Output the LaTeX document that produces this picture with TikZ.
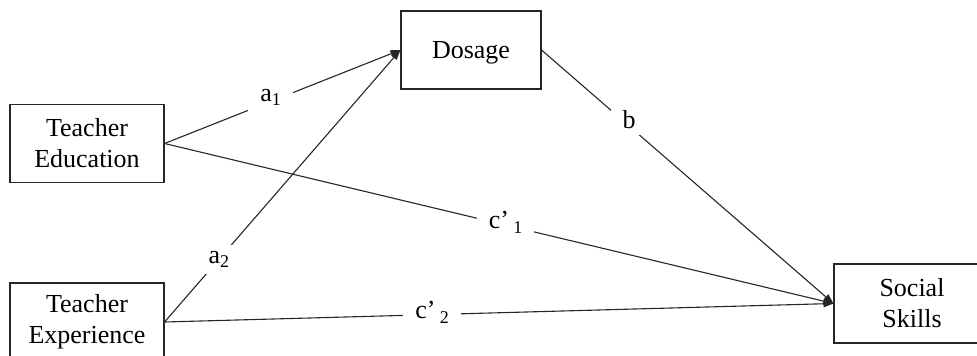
\documentclass[tikz,border=0pt]{standalone}
\usepackage{fontspec}
\setmainfont{Liberation Serif}
\usetikzlibrary{arrows.meta}
\newcommand{\sub}[1]{\raisebox{-0.4ex}{\fontsize{18}{18}\selectfont #1}}
\begin{document}
\begin{tikzpicture}[x=1pt,y=-1pt,
  box/.style={draw=black!85,line width=1.1pt,align=center,inner sep=0pt,
    font=\fontsize{26}{31}\selectfont},
  path/.style={draw=black!85,line width=1.1pt,-{Triangle[length=10pt,width=7pt]}},
  lab/.style={fill=white,inner xsep=12pt,inner ysep=6pt,font=\fontsize{26}{31}\selectfont}]
\clip (0,0) rectangle (977,356);
\node[box,minimum width=154pt,minimum height=78pt] (te) at (87,143.5) {Teacher\\Education};
\node[box,minimum width=140pt,minimum height=78pt] (dos) at (471,50) {\raisebox{-8.5pt}[0pt][0pt]{Dosage}};
\node[box,minimum width=154pt,minimum height=78pt] (tx) at (87,322) {Teacher\\Experience};
\node[box,minimum width=156pt,minimum height=79pt] (ss) at (912,303.5) {Social\\Skills};
\draw[path] (te.east) -- node[lab,pos=0.45,yshift=4pt] {a\sub{1}} (dos.west);
\draw[path] (tx.east) -- node[lab,pos=0.23] {a\sub{2}} (dos.west);
\draw[path] (dos.east) -- node[lab,pos=0.3,yshift=6pt] {b} (ss.west);
\draw[path] (te.east) -- node[lab,pos=0.51,yshift=3pt] {c’\,\sub{1}} (ss.west);
\draw[path] (tx.east) -- node[lab,pos=0.4,yshift=2pt] {c’\,\sub{2}} (ss.west);
\end{tikzpicture}
\end{document}
